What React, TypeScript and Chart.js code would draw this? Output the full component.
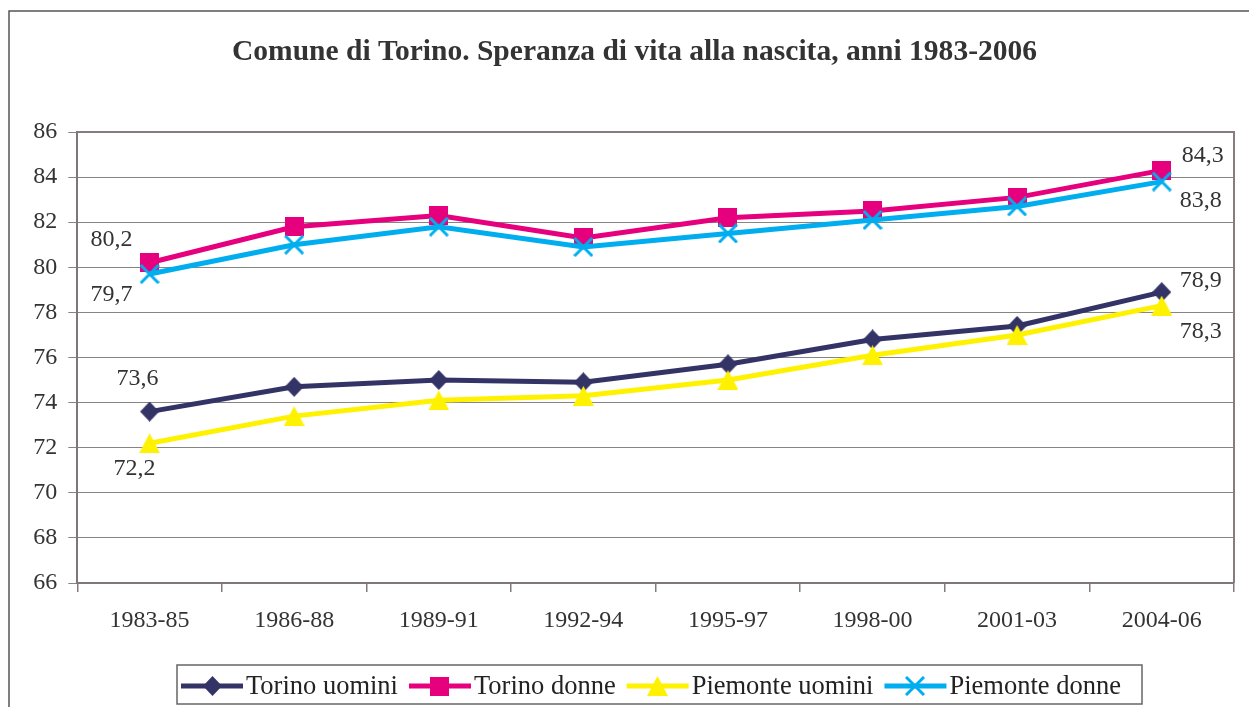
import React, { useEffect, useRef } from "react";
import { Chart, registerables } from "chart.js";

Chart.register(...registerables);

const TITLE = "Comune di Torino. Speranza di vita alla nascita, anni 1983-2006";
const periods = ["1983-85", "1986-88", "1989-91", "1992-94", "1995-97", "1998-00", "2001-03", "2004-06"];
const torinoUomini = [73.6, 74.7, 75.0, 74.9, 75.7, 76.8, 77.4, 78.9];
const torinoDonne = [80.2, 81.8, 82.3, 81.3, 82.2, 82.5, 83.1, 84.3];
const piemonteUomini = [72.2, 73.4, 74.1, 74.3, 75.0, 76.1, 77.0, 78.3];
const piemonteDonne = [79.7, 81.0, 81.8, 80.9, 81.5, 82.1, 82.7, 83.8];
const seriesNames = ["Torino uomini", "Torino donne", "Piemonte uomini", "Piemonte donne"];
const yMin = 66;
const yMax = 86;
const yStep = 2;

const COLORS = ["#333366", "#E6007E", "#FFF200", "#00AEEF"];
const MARKERS = ["diamond", "square", "triangle", "cross"];
// label offsets (px) relative to first / last point
const LABEL_OFF = [
  [[-12, -33], [39, -11]],
  [[-38, -23], [41, -15]],
  [[-15, 26], [39, 26]],
  [[-38, 21], [39, 19]],
];

const W = 1249;
const H = 707;
const SERIF = '"Liberation Serif", "Times New Roman", serif';

function makeMarker(kind: string, color: string): HTMLCanvasElement {
  const c = document.createElement("canvas");
  const sizes: Record<string, [number, number]> = {
    diamond: [19, 20],
    square: [19, 19],
    triangle: [21, 20],
    cross: [20, 20],
  };
  const [w, h] = sizes[kind];
  c.width = w;
  c.height = h;
  const g = c.getContext("2d")!;
  g.fillStyle = color;
  g.strokeStyle = color;
  if (kind === "diamond") {
    g.beginPath();
    g.moveTo(w / 2, 0);
    g.lineTo(w, h / 2);
    g.lineTo(w / 2, h);
    g.lineTo(0, h / 2);
    g.closePath();
    g.fill();
  } else if (kind === "square") {
    g.fillRect(0, 0, w, h);
  } else if (kind === "triangle") {
    g.beginPath();
    g.moveTo(w / 2, 0);
    g.lineTo(w, h);
    g.lineTo(0, h);
    g.closePath();
    g.fill();
  } else {
    g.lineWidth = 3;
    g.beginPath();
    g.moveTo(1, 1);
    g.lineTo(w - 1, h - 1);
    g.moveTo(w - 1, 1);
    g.lineTo(1, h - 1);
    g.stroke();
  }
  return c;
}

const fmt = (v: number) => v.toFixed(1).replace(".", ",");

export default function App() {
  const ref = useRef<HTMLCanvasElement | null>(null);

  useEffect(() => {
    if (!ref.current) return;
    const markers = MARKERS.map((m, i) => makeMarker(m, COLORS[i]));
    const values = [torinoUomini, torinoDonne, piemonteUomini, piemonteDonne];

    const decor = {
      id: "decor",
      beforeDraw(chart: any) {
        const ctx = chart.ctx;
        ctx.save();
        ctx.fillStyle = "#ffffff";
        ctx.fillRect(0, 0, chart.width, chart.height);
        ctx.restore();
      },
      afterDraw(chart: any) {
        const ctx = chart.ctx;
        const a = chart.chartArea;
        ctx.save();
        // outer frame
        ctx.strokeStyle = "#555555";
        ctx.lineWidth = 1.5;
        ctx.beginPath();
        ctx.moveTo(9, H + 10);
        ctx.lineTo(9, 11);
        ctx.lineTo(W + 10, 11);
        ctx.stroke();
        // plot area border top/right
        ctx.strokeStyle = "#877d7d";
        ctx.lineWidth = 2;
        ctx.beginPath();
        ctx.moveTo(a.left, a.top);
        ctx.lineTo(a.right, a.top);
        ctx.lineTo(a.right, a.bottom);
        ctx.stroke();
        // title
        ctx.fillStyle = "#333333";
        ctx.font = `bold 29px ${SERIF}`;
        ctx.textAlign = "center";
        ctx.textBaseline = "alphabetic";
        const tw = ctx.measureText(TITLE).width;
        const k = 805 / tw;
        ctx.save();
        ctx.translate(634.5, 60);
        ctx.scale(k, 1);
        ctx.fillText(TITLE, 0, 0);
        ctx.restore();
        // data labels for first and last points
        ctx.font = `24px ${SERIF}`;
        ctx.fillStyle = "#333333";
        ctx.textBaseline = "middle";
        chart.data.datasets.forEach((ds: any, i: number) => {
          const meta = chart.getDatasetMeta(i);
          const n = meta.data.length;
          [0, n - 1].forEach((idx, j) => {
            const p = meta.data[idx];
            const off = LABEL_OFF[i][j];
            ctx.fillText(fmt(ds.data[idx]), p.x + off[0], p.y + off[1]);
          });
        });
        // legend
        const lx0 = 177;
        const lx1 = 1142;
        const ly0 = 665;
        const ly1 = 704;
        ctx.strokeStyle = "#666666";
        ctx.lineWidth = 1.5;
        ctx.strokeRect(lx0, ly0, lx1 - lx0, ly1 - ly0);
        ctx.font = `26.5px ${SERIF}`;
        ctx.textAlign = "left";
        ctx.textBaseline = "middle";
        const cy = 686;
        let x = 181;
        chart.data.datasets.forEach((ds: any, i: number) => {
          const len = 62;
          ctx.strokeStyle = COLORS[i];
          ctx.lineWidth = 5;
          ctx.beginPath();
          ctx.moveTo(x, cy);
          ctx.lineTo(x + len, cy);
          ctx.stroke();
          const m = markers[i];
          ctx.drawImage(m, Math.round(x + len / 2 - m.width / 2), Math.round(cy - m.height / 2));
          ctx.fillStyle = "#222222";
          const tx = x + len + 3;
          ctx.fillText(ds.label, tx, cy + 1);
          x = tx + ctx.measureText(ds.label).width + 11;
        });
        ctx.restore();
      },
    };

    const chart = new Chart(ref.current, {
      type: "line",
      data: {
        labels: periods,
        datasets: values.map((v, i) => ({
          label: seriesNames[i],
          data: v,
          borderColor: COLORS[i],
          backgroundColor: COLORS[i],
          borderWidth: 5,
          pointStyle: markers[i] as any,
          pointRadius: 10,
          pointHoverRadius: 10,
          tension: 0,
          fill: false,
          order: 3 - i,
        })),
      },
      options: {
        responsive: false,
        animation: false,
        devicePixelRatio: 1,
        layout: { padding: { top: 132, right: W - 1239.6, bottom: 0, left: 0 } },
        plugins: {
          legend: { display: false },
          title: { display: false },
          tooltip: { enabled: false },
        },
        scales: {
          x: {
            type: "category",
            offset: true,
            afterFit: (s: any) => {
              s.height = H - 583;
            },
            grid: {
              display: true,
              drawOnChartArea: false,
              drawTicks: true,
              tickLength: 9,
              color: "#857b7b",
              lineWidth: 1.5,
              offset: true,
            },
            border: { display: true, color: "#7f7777", width: 2 },
            ticks: {
              padding: 14,
              color: "#333333",
              font: { family: SERIF, size: 24 },
              maxRotation: 0,
              autoSkip: false,
            },
          },
          y: {
            min: yMin,
            max: yMax,
            afterFit: (s: any) => {
              s.width = 77.3;
            },
            grid: {
              color: "#858585",
              lineWidth: 1,
              tickLength: 9,
              drawTicks: true,
            },
            border: { display: true, color: "#7f7777", width: 2 },
            ticks: {
              stepSize: yStep,
              padding: 11,
              color: "#333333",
              font: { family: SERIF, size: 24 },
            },
          },
        },
      },
      plugins: [decor],
    });
    return () => chart.destroy();
  }, []);

  return (
    <div
      style={{
        position: "absolute",
        left: 0,
        top: 0,
        width: W,
        height: H,
        overflow: "hidden",
        background: "#ffffff",
      }}
    >
      <canvas ref={ref} width={W} height={H} style={{ width: W, height: H, display: "block" }} />
    </div>
  );
}
